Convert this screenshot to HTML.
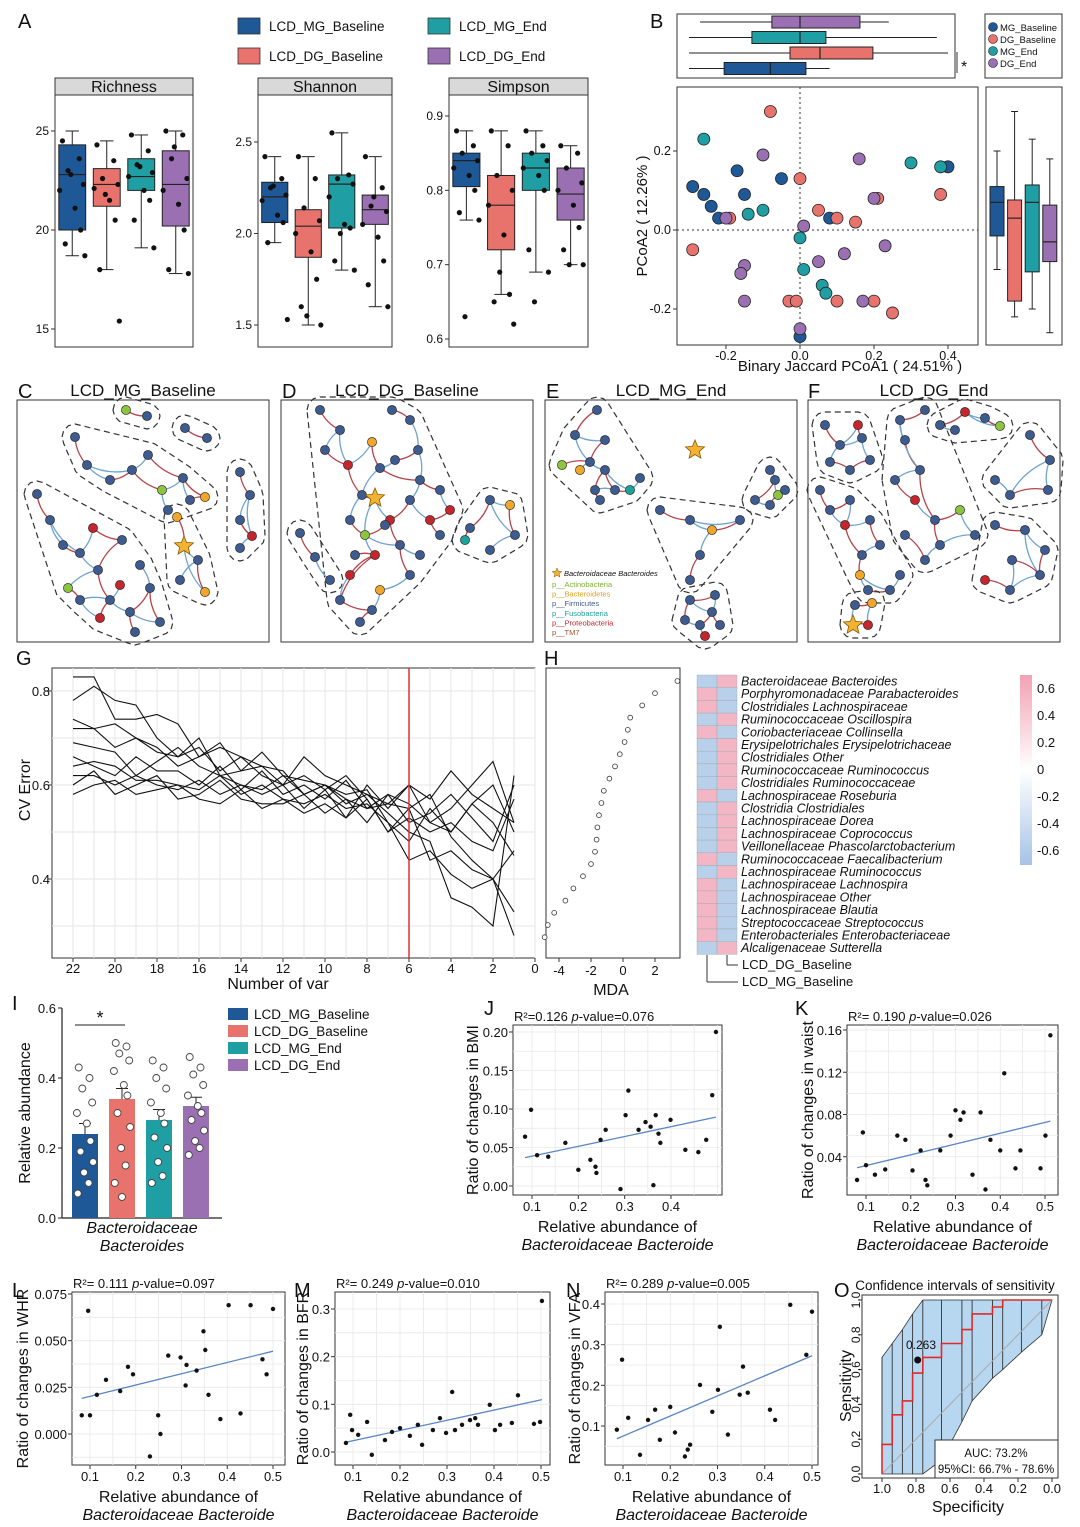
<!DOCTYPE html>
<html><head><meta charset="utf-8"><title>Figure</title>
<style>
html,body{margin:0;padding:0;background:#fff;}
svg{display:block;font-family:"Liberation Sans",Arial,sans-serif;}
</style></head>
<body>
<svg id="root" width="1080" height="1527" viewBox="0 0 1080 1527" xmlns="http://www.w3.org/2000/svg">
<rect x="0" y="0" width="1080" height="1527" fill="#fff"/>
</svg>
<script>
// ---------- DATA ----------
const groupNames = ["LCD_MG_Baseline","LCD_DG_Baseline","LCD_MG_End","LCD_DG_End"];
const groupColors = ["#1f5896","#e8736c","#1f9fa3","#9a70b2"];
// Panel A box stats [min,q1,med,q3,max]
const richStats = [[18.7,20,22.8,24.3,25],[18,21.2,22.3,23.1,24.5],[19.1,22,22.7,23.6,24.8],[17.8,20.2,22.3,24,25]];
const shanStats = [[1.95,2.06,2.2,2.28,2.42],[1.5,1.87,2.04,2.13,2.42],[1.8,2.03,2.27,2.32,2.55],[1.6,2.05,2.13,2.21,2.42]];
const simpStats = [[0.76,0.805,0.84,0.85,0.88],[0.66,0.72,0.78,0.82,0.88],[0.69,0.8,0.83,0.85,0.88],[0.7,0.76,0.795,0.83,0.86]];
const richPts = [[24.5,23.6,23,22.3,22,21.1,20,19.3,18.7,22.8],[24.3,23.5,22.6,22.3,22.1,21.5,20.5,18,15.4,21.8],[24.8,24,23.3,22.9,22.7,22,21.5,20.5,19.1,23.2],[25,24.8,23.6,22.6,22,21.3,20,18,17.8,24.2]];
const shanPts = [[2.42,2.3,2.25,2.21,2.18,2.1,2.06,1.95,1.53,2.26],[2.42,2.3,2.14,2.07,2.0,1.9,1.75,1.6,1.5,1.55],[2.55,2.32,2.3,2.27,2.2,2.05,2.03,1.85,1.8,2.0],[2.42,2.25,2.15,2.12,2.05,1.98,1.85,1.72,1.6,2.2]];
const simpPts = [[0.88,0.86,0.85,0.84,0.83,0.82,0.8,0.77,0.76,0.63],[0.88,0.86,0.82,0.8,0.78,0.74,0.66,0.65,0.62,0.69],[0.88,0.86,0.85,0.84,0.83,0.82,0.8,0.72,0.69,0.65],[0.86,0.85,0.83,0.81,0.8,0.78,0.75,0.72,0.7,0.7]];
// Panel B PCoA points
const pcoaX = [-0.29,-0.26,-0.17,-0.24,-0.22,-0.15,-0.05,0.08,0.4,0.0,
 -0.26,-0.1,0.0,0.01,0.06,0.07,0.3,0.38,-0.14,
 -0.08,0.0,-0.29,-0.19,0.05,-0.03,-0.01,0.1,0.15,0.2,0.25,0.38,0.21,0.1,
 -0.1,0.16,-0.2,-0.15,-0.16,0.05,0.12,0.2,0.23,0.17,0.0,-0.15,0.01];
const pcoaY = [0.11,0.09,0.15,0.06,0.03,0.09,0.13,0.03,0.16,-0.27,
 0.23,0.05,-0.02,-0.1,-0.14,-0.16,0.17,0.16,0.04,
 0.3,0.13,-0.05,0.03,0.05,-0.18,-0.18,0.03,0.02,-0.18,-0.21,0.09,0.08,-0.18,
 0.19,0.18,0.03,-0.09,-0.11,-0.08,-0.06,0.08,-0.04,-0.18,-0.25,-0.18,0.01];
const pcoaG = [0,0,0,0,0,0,0,0,0,0, 2,2,2,2,2,2,2,2,2, 1,1,1,1,1,1,1,1,1,1,1,1,1,1, 3,3,3,3,3,3,3,3,3,3,3,3,3];
const pc1Stats = [[-0.3,-0.205,-0.08,0.016,0.08],[-0.3,-0.027,0.054,0.197,0.4],[-0.3,-0.13,0.0,0.07,0.37],[-0.27,-0.076,0.0,0.162,0.24]];
const pc2Stats = [[-0.1,-0.015,0.07,0.11,0.2],[-0.22,-0.18,0.03,0.076,0.3],[-0.2,-0.106,0.07,0.114,0.23],[-0.26,-0.08,-0.03,0.063,0.18]];
// Panel G CV error lines (x = 22..1)
const nVar = [22,21,20,19,18,17,16,15,14,13,12,11,10,9,8,7,6,5,4,3,2,1];
const cvLine1 = [0.83,0.83,0.74,0.74,0.75,0.73,0.66,0.69,0.63,0.64,0.63,0.58,0.60,0.57,0.55,0.56,0.55,0.44,0.46,0.42,0.40,0.46];
const cvLine2 = [0.78,0.81,0.78,0.77,0.70,0.66,0.68,0.63,0.66,0.64,0.60,0.62,0.59,0.62,0.57,0.50,0.55,0.58,0.49,0.44,0.40,0.33];
const cvLine3 = [0.74,0.72,0.73,0.70,0.67,0.66,0.70,0.62,0.63,0.67,0.62,0.61,0.60,0.58,0.59,0.52,0.44,0.46,0.41,0.38,0.40,0.28];
const cvLine4 = [0.72,0.72,0.68,0.70,0.68,0.64,0.66,0.68,0.66,0.62,0.60,0.66,0.62,0.60,0.58,0.56,0.60,0.52,0.50,0.56,0.52,0.45];
const cvLine5 = [0.69,0.68,0.67,0.62,0.65,0.68,0.64,0.62,0.60,0.59,0.62,0.58,0.60,0.56,0.58,0.54,0.50,0.48,0.36,0.34,0.30,0.62];
const cvLine6 = [0.66,0.64,0.62,0.66,0.63,0.63,0.60,0.64,0.59,0.63,0.58,0.60,0.57,0.61,0.55,0.58,0.52,0.54,0.58,0.53,0.48,0.60];
const cvLine7 = [0.64,0.65,0.64,0.61,0.61,0.60,0.59,0.62,0.58,0.60,0.57,0.56,0.58,0.55,0.56,0.52,0.48,0.55,0.50,0.56,0.60,0.50];
const cvLine8 = [0.62,0.62,0.60,0.62,0.60,0.59,0.61,0.58,0.60,0.58,0.60,0.55,0.59,0.53,0.60,0.55,0.60,0.57,0.63,0.58,0.55,0.52];
const cvLine9 = [0.60,0.63,0.58,0.60,0.62,0.57,0.58,0.61,0.57,0.56,0.56,0.58,0.54,0.57,0.52,0.58,0.56,0.52,0.55,0.60,0.65,0.52];
const cvLine10 = [0.58,0.60,0.61,0.58,0.59,0.60,0.57,0.56,0.59,0.55,0.57,0.54,0.56,0.53,0.57,0.50,0.53,0.50,0.52,0.48,0.46,0.57];
const cvCut = 6;
// Panel H
const taxa = ["Bacteroidaceae Bacteroides","Porphyromonadaceae Parabacteroides","Clostridiales Lachnospiraceae","Ruminococcaceae Oscillospira","Coriobacteriaceae Collinsella","Erysipelotrichales Erysipelotrichaceae","Clostridiales Other","Ruminococcaceae Ruminococcus","Clostridiales Ruminococcaceae","Lachnospiraceae Roseburia","Clostridia Clostridiales","Lachnospiraceae Dorea","Lachnospiraceae Coprococcus","Veillonellaceae Phascolarctobacterium","Ruminococcaceae Faecalibacterium","Lachnospiraceae Ruminococcus","Lachnospiraceae Lachnospira","Lachnospiraceae Other","Lachnospiraceae Blautia","Streptococcaceae Streptococcus","Enterobacteriales Enterobacteriaceae","Alcaligenaceae Sutterella"];
const mda = [3.4,2.0,1.2,0.45,0.3,0.1,-0.2,-0.5,-0.85,-1.2,-1.35,-1.5,-1.6,-1.65,-1.75,-2.0,-2.5,-3.1,-3.6,-4.3,-4.7,-4.9];
const corrMG = [-0.5,0.5,0.5,-0.5,0.5,-0.5,-0.5,-0.5,-0.5,0.5,-0.5,-0.5,-0.5,-0.5,0.5,-0.5,0.5,0.5,0.5,0.5,0.5,-0.5];
const corrDG = [0.5,-0.5,-0.5,0.5,-0.5,0.5,0.5,0.5,0.5,-0.5,0.5,0.5,0.5,0.5,-0.5,0.5,-0.5,-0.5,-0.5,-0.5,-0.5,0.5];
const cbTicks = [0.6,0.4,0.2,0,-0.2,-0.4,-0.6];
// Panel I
const barMeans = [0.24,0.34,0.28,0.32];
const barSE = [0.03,0.03,0.03,0.025];
const barPts = [[0.43,0.4,0.37,0.33,0.3,0.27,0.22,0.19,0.16,0.13,0.1,0.07],[0.5,0.49,0.47,0.45,0.42,0.38,0.35,0.3,0.26,0.2,0.15,0.1,0.06],[0.45,0.43,0.4,0.37,0.33,0.3,0.27,0.23,0.2,0.16,0.12,0.1],[0.46,0.43,0.41,0.38,0.35,0.32,0.3,0.28,0.25,0.22,0.2,0.18]];
// Panels J-N
const jX=[0.085,0.098,0.111,0.135,0.172,0.2,0.226,0.237,0.239,0.248,0.259,0.291,0.302,0.308,0.33,0.345,0.356,0.362,0.373,0.377,0.399,0.431,0.459,0.476,0.489,0.497,0.367];
const jY=[0.064,0.099,0.04,0.038,0.056,0.021,0.034,0.025,0.017,0.06,0.073,-0.004,0.092,0.124,0.073,0.083,0.077,0.001,0.068,0.056,0.086,0.047,0.044,0.06,0.118,0.2,0.092];
const kX=[0.08,0.093,0.1,0.12,0.143,0.17,0.188,0.204,0.222,0.233,0.237,0.266,0.289,0.3,0.311,0.318,0.338,0.356,0.367,0.378,0.4,0.409,0.434,0.445,0.49,0.501,0.512];
const kY=[0.018,0.063,0.032,0.023,0.028,0.06,0.056,0.027,0.046,0.018,0.013,0.046,0.06,0.084,0.075,0.082,0.023,0.082,0.009,0.056,0.046,0.119,0.029,0.046,0.029,0.06,0.155];
const lX=[0.082,0.096,0.1,0.115,0.135,0.166,0.183,0.194,0.231,0.249,0.254,0.271,0.298,0.311,0.309,0.333,0.348,0.352,0.359,0.385,0.403,0.429,0.451,0.477,0.486,0.5];
const lY=[0.01,0.066,0.01,0.021,0.029,0.023,0.036,0.032,-0.012,0.01,0,0.042,0.041,0.037,0.026,0.034,0.055,0.045,0.021,0.008,0.069,0.011,0.069,0.04,0.032,0.067];
const mX=[0.085,0.094,0.098,0.111,0.13,0.14,0.168,0.183,0.2,0.221,0.238,0.247,0.27,0.285,0.298,0.311,0.317,0.332,0.349,0.36,0.366,0.391,0.402,0.413,0.438,0.451,0.485,0.498,0.502];
const mY=[0.019,0.078,0.046,0.036,0.063,-0.006,0.025,0.042,0.05,0.034,0.057,0.015,0.046,0.071,0.04,0.126,0.046,0.057,0.067,0.071,0.057,0.099,0.046,0.057,0.061,0.119,0.059,0.063,0.317];
const nX=[0.087,0.098,0.111,0.136,0.153,0.168,0.178,0.2,0.21,0.231,0.237,0.242,0.263,0.289,0.301,0.305,0.322,0.347,0.354,0.364,0.411,0.422,0.454,0.488,0.5];
const nY=[0.091,0.263,0.12,0.029,0.115,0.14,0.066,0.147,0.084,0.025,0.042,0.054,0.201,0.135,0.189,0.344,0.079,0.177,0.246,0.182,0.14,0.115,0.398,0.275,0.381];
// Panel O ROC
const rocSpec = [1,1,0.94,0.94,0.88,0.88,0.82,0.82,0.76,0.76,0.65,0.65,0.53,0.53,0.47,0.47,0.35,0.35,0.29,0.29,0];
const rocSens = [0,0.17,0.17,0.34,0.34,0.42,0.42,0.58,0.58,0.67,0.67,0.75,0.75,0.83,0.83,0.92,0.92,0.96,0.96,1,1];
const ciSpec = [1,0.94,0.88,0.82,0.76,0.65,0.53,0.47,0.35,0.29,0.18,0.06,0];
const ciLow = [0,0,0,0,0,0.08,0.3,0.42,0.55,0.6,0.7,0.8,1];
const ciHigh = [0.67,0.75,0.83,0.92,1,1,1,1,1,1,1,1,1];

// ---------- HELPERS ----------
const NS="http://www.w3.org/2000/svg";
const svg=document.getElementById('root');
function mk(tag,attrs,name,parent){
  const e=document.createElementNS(NS,tag);
  for(const k in attrs) e.setAttribute(k,attrs[k]);
  
  
  (parent||svg).appendChild(e);
  return e;
}
function txt(x,y,s,size,name,opts){
  opts=opts||{};
  const a={x:x,y:y,'font-size':size,fill:opts.fill||'#111'};
  if(opts.anchor) a['text-anchor']=opts.anchor;
  if(opts.italic) a['font-style']='italic';
  if(opts.rot!==undefined) a.transform='rotate('+opts.rot+' '+x+' '+y+')';
  if(opts.weight) a['font-weight']=opts.weight;
  const t=mk('text',a,name);
  t.textContent=s;
  return t;
}
function lin(d0,d1,r0,r1){return v=>r0+(v-d0)*(r1-r0)/(d1-d0);}
function line(x1,y1,x2,y2,st,w,name,dash){
  const a={x1:x1,y1:y1,x2:x2,y2:y2,stroke:st,'stroke-width':w||1};
  if(dash) a['stroke-dasharray']=dash;
  return mk('line',a,name);
}
function rect(x,y,w,h,fill,st,name,sw){
  return mk('rect',{x:x,y:y,width:w,height:h,fill:fill,stroke:st||'none','stroke-width':sw||1},name);
}
function vbox(cx,w,s,ys,color,name){
  line(cx,ys(s[0]),cx,ys(s[4]),'#222',1,name+'-whisker');
  line(cx-w/4,ys(s[0]),cx+w/4,ys(s[0]),'#222',1,name+'-cap-low');
  line(cx-w/4,ys(s[4]),cx+w/4,ys(s[4]),'#222',1,name+'-cap-high');
  rect(cx-w/2,ys(s[3]),w,ys(s[1])-ys(s[3]),color,'#222',name+'-box');
  line(cx-w/2,ys(s[2]),cx+w/2,ys(s[2]),'#222',1.2,name+'-median');
}
function hbox(cy,h,s,xs,color,name){
  line(xs(s[0]),cy,xs(s[4]),cy,'#222',1,name+'-whisker');
  rect(xs(s[1]),cy-h/2,xs(s[3])-xs(s[1]),h,color,'#222',name+'-box');
  line(xs(s[2]),cy-h/2,xs(s[2]),cy+h/2,'#222',1.2,name+'-median');
}
const jit=[-7,5,-3,8,-9,2,6,-5,9,-1,4,-8,0];

// ---------- PANEL LETTERS & TITLES ----------
[['A',18,28],['B',650,28],['C',18,398],['D',282,398],['E',546,398],['F',808,398],['G',16,665],['H',544,665],['I',12,1010],['J',484,1015],['K',795,1015],['L',12,1297],['M',294,1297],['N',566,1297],['O',834,1297]].forEach(p=>{
  txt(p[1],p[2],p[0],20,'panel-label-'+p[0].toLowerCase());
});

// ---------- PANEL A ----------
groupNames.forEach((g,i)=>{
  const lx = i%2===0 ? 238 : 428, ly = i<2 ? (i===0?18:48) : (i===2?18:48);
  const col = [0,2,1,3][i];
});
[[0,238,18],[2,428,18],[1,238,48],[3,428,48]].forEach(p=>{
  const g=p[0];
  rect(p[1],p[2],22,16,groupColors[g],'#333','legend-a-swatch-'+g,0.8);
  txt(p[1]+31,p[2]+13,groupNames[g],13.5,'legend-a-label-'+g);
});
function alphaPanel(x0,x1,title,stats,pts,yd,ticks,tickFmt,name){
  const ys=lin(yd[0],yd[1],yd[2],yd[3]);
  rect(x0,78,x1-x0,17,'#d9d9d9','#333',name+'-strip');
  txt((x0+x1)/2,92,title,16,name+'-title',{anchor:'middle'});
  rect(x0,95,x1-x0,252,'#fff','#333',name+'-frame');
  ticks.forEach(t=>{
    line(x0-4,ys(t),x0,ys(t),'#333',1,name+'-tick');
    txt(x0-6,ys(t)+4,tickFmt(t),12,name+'-tick-label',{anchor:'end'});
  });
  const w=(x1-x0)/4;
  stats.forEach((s,i)=>{
    const cx=x0+w*(i+0.5);
    vbox(cx,w*0.78,s,ys,groupColors[i],name+'-group-'+i);
    pts[i].forEach((v,j)=>{
      mk('circle',{cx:cx+jit[j%jit.length]*1.4,cy:ys(v),r:2.6,fill:'#111'},name+'-point');
    });
  });
}
alphaPanel(55,193,'Richness',richStats,richPts,[15,25,329,131],[15,20,25],t=>String(t),'richness');
alphaPanel(258,392,'Shannon',shanStats,shanPts,[1.5,2.5,325,142],[1.5,2.0,2.5],t=>t.toFixed(1),'shannon');
alphaPanel(449,588,'Simpson',simpStats,simpPts,[0.6,0.9,339,116],[0.6,0.7,0.8,0.9],t=>t.toFixed(1),'simpson');

// ---------- PANEL B ----------
const bx=lin(0,0.2,800,874), by=lin(0,0.2,230,151);
rect(677,87,301,258,'#fff','#333','pcoa-frame');
line(800,87,800,345,'#333',1,'pcoa-zero-x','2,3');
line(677,230,978,230,'#333',1,'pcoa-zero-y','2,3');
pcoaX.forEach((v,i)=>{
  mk('circle',{cx:bx(v),cy:by(pcoaY[i]),r:6,fill:groupColors[pcoaG[i]],stroke:'#222','stroke-width':0.8},'pcoa-point');
});
[-0.2,0,0.2,0.4].forEach(t=>{
  line(bx(t),345,bx(t),349,'#333',1,'pcoa-x-tick');
  txt(bx(t),360,t.toFixed(1),12.5,'pcoa-x-tick-label',{anchor:'middle'});
});
[-0.2,0,0.2].forEach(t=>{
  line(673,by(t),677,by(t),'#333',1,'pcoa-y-tick');
  txt(671,by(t)+4,t.toFixed(1),12.5,'pcoa-y-tick-label',{anchor:'end'});
});
txt(850,371,'Binary Jaccard PCoA1 ( 24.51% )',15,'pcoa-x-title',{anchor:'middle'});
txt(647,216,'PCoA2 ( 12.26% )',15,'pcoa-y-title',{anchor:'middle',rot:-90});
rect(677,14,278,64,'#fff','#333','pcoa1-box-frame');
[3,2,1,0].forEach((g,k)=>{ hbox(22+k*15.5,12,pc1Stats[g],bx,groupColors[g],'pcoa1-box-'+g); });
line(957,52,957,73,'#333',1,'pcoa1-sig-bracket');
txt(961,72,'*',16,'pcoa1-sig-star');
rect(986,87,76,258,'#fff','#333','pcoa2-box-frame');
[0,1,2,3].forEach(g=>{ vbox(997+g*17.6,14,pc2Stats[g],by,groupColors[g],'pcoa2-box-'+g); });
rect(985,14,77,64,'#fff','#333','pcoa-legend-frame');
groupNames.forEach((g,i)=>{
  mk('circle',{cx:993,cy:27+i*12,r:4.5,fill:groupColors[i],stroke:'#222','stroke-width':0.6},'pcoa-legend-dot');
  txt(1000,31+i*12,g.replace('LCD_',''),9.5,'pcoa-legend-label');
});

// ---------- NETWORKS C-F ----------
const nodeCol={b:'#3e5b8f',r:'#c3262c',g:'#8cc43f',o:'#f0a62b',t:'#1ba39b'};
const netC=[
 [[75,437,'b'],[87,465,'b'],[110,480,'b'],[132,470,'b'],[148,455,'b'],[162,490,'g'],[183,478,'b'],[205,497,'o'],[168,510,'b'],[190,500,'b']],
 [[126,410,'g'],[147,416,'b']],[[185,428,'b'],[207,438,'b']],
 [[240,472,'b'],[250,495,'b'],[240,520,'b'],[252,536,'r'],[240,548,'b']],
 [[37,494,'b'],[50,520,'b'],[63,545,'b'],[80,553,'b'],[93,528,'r'],[122,540,'b'],[98,570,'b'],[110,600,'b'],[80,600,'b'],[100,618,'r'],[130,612,'b'],[150,588,'b'],[160,622,'b'],[135,632,'b'],[120,585,'r'],[68,588,'g'],[140,565,'b']],
 [[184,546,'s'],[177,517,'o'],[198,560,'b'],[205,592,'o'],[180,580,'b']]];
const netD=[
 [[320,410,'b'],[340,430,'b'],[325,450,'b'],[348,465,'r'],[372,442,'o'],[380,468,'b'],[362,495,'b'],[375,498,'s'],[350,520,'b'],[365,535,'g'],[390,520,'r'],[410,500,'b'],[420,480,'b'],[440,490,'b'],[430,520,'r'],[400,545,'b'],[375,555,'r'],[350,575,'r'],[340,600,'b'],[372,610,'b'],[380,590,'o'],[410,575,'b'],[420,555,'b'],[440,535,'b'],[450,510,'r'],[355,555,'b'],[395,460,'b'],[418,450,'b'],[410,420,'b'],[392,410,'b'],[385,525,'b'],[360,622,'b']],
 [[300,533,'b'],[315,557,'b'],[330,580,'b']],
 [[470,528,'b'],[490,500,'b'],[510,505,'o'],[515,535,'b'],[490,550,'b'],[465,540,'t']]];
const netE=[
 [[597,410,'b'],[575,435,'b'],[605,440,'b'],[590,462,'b'],[605,470,'b'],[615,490,'b'],[595,490,'b'],[562,465,'g'],[580,470,'o'],[630,490,'t'],[640,478,'b'],[600,500,'b']],
 [[695,450,'s']],
 [[660,510,'b'],[690,520,'b'],[712,530,'o'],[740,520,'b'],[700,555,'b'],[690,580,'b']],
 [[755,500,'b'],[775,480,'b'],[778,495,'g'],[770,505,'b'],[770,470,'b'],[785,490,'b']],
 [[690,600,'b'],[685,620,'b'],[700,625,'b'],[712,612,'b'],[705,636,'r'],[720,625,'b'],[715,595,'b']]];
const netF=[
 [[825,425,'b'],[840,445,'b'],[858,425,'r'],[862,438,'b'],[870,460,'b'],[850,470,'b'],[830,462,'b']],
 [[940,425,'b'],[965,412,'r'],[985,418,'b'],[1000,426,'g'],[955,430,'b']],
 [[1030,435,'b'],[1050,460,'b'],[1048,490,'b'],[1010,495,'b'],[995,480,'b']],
 [[900,420,'b'],[925,410,'b'],[905,440,'b'],[920,470,'b'],[895,480,'b'],[915,500,'r'],[935,520,'b'],[960,510,'g'],[975,535,'b'],[940,545,'b'],[925,560,'b'],[905,535,'b']],
 [[820,490,'b'],[830,510,'b'],[845,525,'r'],[850,500,'b'],[870,520,'b'],[880,545,'b'],[862,555,'b'],[860,575,'o'],[868,590,'b'],[890,590,'b'],[900,575,'b']],
 [[995,525,'b'],[1025,530,'b'],[1045,550,'b'],[1040,575,'b'],[1010,590,'b'],[985,580,'r'],[1012,560,'b']],
 [[855,605,'b'],[872,603,'o'],[868,625,'r'],[853,625,'s']]];
function hull(pts){
  pts=pts.slice().sort((a,b)=>a[0]-b[0]||a[1]-b[1]);
  const cr=(o,a,b)=>(a[0]-o[0])*(b[1]-o[1])-(a[1]-o[1])*(b[0]-o[0]);
  const lo=[],up=[];
  for(const p of pts){while(lo.length>=2&&cr(lo[lo.length-2],lo[lo.length-1],p)<=0)lo.pop();lo.push(p);}
  for(let i=pts.length-1;i>=0;i--){const p=pts[i];while(up.length>=2&&cr(up[up.length-2],up[up.length-1],p)<=0)up.pop();up.push(p);}
  up.pop();lo.pop();return lo.concat(up);
}
function starPath(cx,cy,r){
  let d='';for(let i=0;i<10;i++){const a=-Math.PI/2+i*Math.PI/5;const rr=i%2?r*0.45:r;d+=(i?'L':'M')+(cx+rr*Math.cos(a)).toFixed(1)+','+(cy+rr*Math.sin(a)).toFixed(1);}return d+'Z';
}
function network(x0,title,clusters,name){
  rect(x0,400,252,242,'#fff','#333',name+'-frame');
  txt(x0+126,396,title,17,name+'-title',{anchor:'middle'});
  clusters.forEach((cl,ci)=>{
    if(cl.length>1){
      const ring=[];cl.forEach(p=>{for(let k=0;k<12;k++){ring.push([p[0]+13*Math.cos(k*Math.PI/6),p[1]+13*Math.sin(k*Math.PI/6)]);}});
      const h=hull(ring);
      mk('path',{d:'M'+h.map(p=>p[0].toFixed(1)+','+p[1].toFixed(1)).join('L')+'Z',fill:'none',stroke:'#333','stroke-width':1.2,'stroke-dasharray':'6,4','stroke-linejoin':'round'},name+'-module-outline');
    }
    for(let i=1;i<cl.length;i++){
      const ds=[];for(let j=0;j<i;j++){ds.push([Math.hypot(cl[i][0]-cl[j][0],cl[i][1]-cl[j][1]),j]);}
      ds.sort((a,b)=>a[0]-b[0]);
      const nk = i%3===0 && ds.length>1 ? 2 : 1;
      for(let k=0;k<nk;k++){
        const a=cl[i],b=cl[ds[k][1]];
        const mx=(a[0]+b[0])/2+(b[1]-a[1])*0.18, my=(a[1]+b[1])/2-(b[0]-a[0])*0.18;
        mk('path',{d:'M'+a[0]+','+a[1]+'Q'+mx.toFixed(1)+','+my.toFixed(1)+' '+b[0]+','+b[1],fill:'none',stroke:(i+k)%2?'#b5444a':'#6fa3cf','stroke-width':1.3},name+'-edge');
      }
    }
  });
  clusters.forEach(cl=>cl.forEach(p=>{
    if(p[2]==='s') mk('path',{d:starPath(p[0],p[1],10),fill:'#f2b233',stroke:'#8a5a00','stroke-width':0.8},name+'-hub-star');
    else mk('circle',{cx:p[0],cy:p[1],r:4.6,fill:nodeCol[p[2]],stroke:'#222','stroke-width':0.6},name+'-node');
  }));
}
network(17,'LCD_MG_Baseline',netC,'network-c');
network(281,'LCD_DG_Baseline',netD,'network-d');
network(545,'LCD_MG_End',netE,'network-e');
network(808,'LCD_DG_End',netF,'network-f');
mk('path',{d:starPath(557,573,5),fill:'#f2b233',stroke:'#8a5a00','stroke-width':0.5},'network-legend-star');
txt(564,576,'Bacteroidaceae Bacteroides',7.5,'network-legend-star-label',{italic:true});
[['p__Actinobacteria','#7ab030'],['p__Bacteroidetes','#e0a020'],['p__Firmicutes','#3e5b8f'],['p__Fusobacteria','#1ba39b'],['p__Proteobacteria','#c3262c'],['p__TM7','#a0522d']].forEach((l,i)=>{
  txt(552,587+i*9.6,l[0],7.5,'network-legend-phylum',{fill:l[1]});
});

// ---------- PANEL G ----------
const gx=lin(22,0,73,535), gy=lin(0.4,0.8,879,691);
rect(52,668,483,290,'#fff','#333','cv-frame');
nVar.concat([0]).forEach(v=>{ line(gx(v),668,gx(v),958,'#e6e6e6',1,'cv-grid-x'); });
[0.3,0.4,0.5,0.6,0.7,0.8].forEach(v=>{ line(52,gy(v),535,gy(v),'#e6e6e6',1,'cv-grid-y'); });
[cvLine1,cvLine2,cvLine3,cvLine4,cvLine5,cvLine6,cvLine7,cvLine8,cvLine9,cvLine10].forEach((ln,k)=>{
  mk('polyline',{points:ln.map((v,i)=>gx(nVar[i]).toFixed(1)+','+gy(v).toFixed(1)).join(' '),fill:'none',stroke:'#111','stroke-width':1.1},'cv-line-'+(k+1));
});
line(gx(cvCut),668,gx(cvCut),958,'#e0303a',1.5,'cv-cutoff-line');
[22,20,18,16,14,12,10,8,6,4,2,0].forEach(v=>{
  line(gx(v),958,gx(v),962,'#333',1,'cv-x-tick');
  txt(gx(v),973,String(v),13,'cv-x-tick-label',{anchor:'middle'});
});
[0.4,0.6,0.8].forEach(v=>{
  line(48,gy(v),52,gy(v),'#333',1,'cv-y-tick');
  txt(50,gy(v)+5,v.toFixed(1),13,'cv-y-tick-label',{anchor:'end'});
});
txt(278,989,'Number of var',16,'cv-x-title',{anchor:'middle'});
txt(30,790,'CV Error',16,'cv-y-title',{anchor:'middle',rot:-90});

// ---------- PANEL H ----------
const hx=lin(0,2,623,655), rowY=i=>681+i*12.2;
rect(546,668,134,290,'#fff','#333','mda-frame');
mda.forEach((v,i)=>{ mk('circle',{cx:hx(v),cy:rowY(i),r:2.4,fill:'#fff',stroke:'#333','stroke-width':0.8},'mda-point'); });
[-4,-2,0,2].forEach(v=>{
  line(hx(v),958,hx(v),962,'#333',1,'mda-x-tick');
  txt(hx(v),975,String(v),13,'mda-x-tick-label',{anchor:'middle'});
});
txt(611,995,'MDA',16,'mda-x-title',{anchor:'middle'});
const heatCol=v=>v>0?'#f3b6c5':'#b9d0ea';
taxa.forEach((t,i)=>{
  const y=675+i*12.7;
  rect(697,y,20,12.7,heatCol(corrMG[i]),'#9aa','heat-cell-mg',0.4);
  rect(717,y,20,12.7,heatCol(corrDG[i]),'#9aa','heat-cell-dg',0.4);
  txt(741,y+10.5,t,12.5,'taxon-label',{italic:true});
});
line(707,955,707,982,'#333',1,'heat-tree-mg');
line(707,982,738,982,'#333',1,'heat-tree-mg-h');
line(727,955,727,965,'#333',1,'heat-tree-dg');
line(727,965,738,965,'#333',1,'heat-tree-dg-h');
txt(742,969,'LCD_DG_Baseline',13,'heat-col-label-dg');
txt(742,986,'LCD_MG_Baseline',13,'heat-col-label-mg');
const defs=mk('defs',{},'defs');
const lg=mk('linearGradient',{id:'cbg',x1:0,y1:0,x2:0,y2:1},'colorbar-gradient',defs);
mk('stop',{offset:'0',"stop-color":'#f2a1b4'},'gradient-stop',lg);
mk('stop',{offset:'0.5',"stop-color":'#ffffff'},'gradient-stop',lg);
mk('stop',{offset:'1',"stop-color":'#a6c2e6'},'gradient-stop',lg);
rect(1020,675,12,190,'url(#cbg)','none','colorbar');
const cby=lin(0.6,-0.6,688,850);
cbTicks.forEach(v=>{ txt(1037,cby(v)+5,String(v),13,'colorbar-tick-label'); });

// ---------- PANEL I ----------
const iy=lin(0,0.6,1218,1008);
line(62,1008,62,1218,'#222',1.2,'bar-y-axis');
line(62,1218,222,1218,'#222',1.2,'bar-x-axis');
[0,0.2,0.4,0.6].forEach(v=>{
  line(58,iy(v),62,iy(v),'#222',1,'bar-y-tick');
  txt(56,iy(v)+5,v.toFixed(1),13,'bar-y-tick-label',{anchor:'end'});
});
barMeans.forEach((m,i)=>{
  const cx=85+i*37;
  rect(cx-13,iy(m),26,iy(0)-iy(m),groupColors[i],'none','bar-'+i);
  line(cx,iy(m),cx,iy(m+barSE[i]),'#222',1,'bar-error-'+i);
  line(cx-6,iy(m+barSE[i]),cx+6,iy(m+barSE[i]),'#222',1,'bar-error-cap-'+i);
  barPts[i].forEach((v,j)=>{ mk('circle',{cx:cx+jit[j%jit.length]*0.9,cy:iy(v),r:3.5,fill:'#fff',stroke:'#444','stroke-width':0.9},'bar-point'); });
});
line(75,1025,125,1025,'#222',1,'bar-sig-bracket');
txt(100,1024,'*',18,'bar-sig-star',{anchor:'middle'});
txt(30,1113,'Relative abundance',16,'bar-y-title',{anchor:'middle',rot:-90});
txt(142,1233,'Bacteroidaceae',16,'bar-x-label-1',{anchor:'middle',italic:true});
txt(142,1251,'Bacteroides',16,'bar-x-label-2',{anchor:'middle',italic:true});
groupNames.forEach((g,i)=>{
  rect(228,1008+i*17,20,12,groupColors[i],'none','bar-legend-swatch');
  txt(254,1019+i*17,g,13.5,'bar-legend-label');
});

// ---------- SCATTER J-N ----------
function scatter(o){
  const xs=lin(o.xd[0],o.xd[1],o.xd[2],o.xd[3]), ys=lin(o.yd[0],o.yd[1],o.yd[2],o.yd[3]);
  rect(o.f[0],o.f[1],o.f[2]-o.f[0],o.f[3]-o.f[1],'#fff','#333',o.name+'-frame');
  const xstep=(o.xt[1]-o.xt[0])/2, ystep=(o.yt[1]-o.yt[0])/2;
  for(let v=o.xt[0]-xstep*2;v<=o.xt[o.xt.length-1]+xstep*2;v+=xstep){const px=xs(v);if(px>o.f[0]&&px<o.f[2])line(px,o.f[1],px,o.f[3],'#e8e8e8',0.8,o.name+'-grid-x');}
  for(let v=o.yt[0]-ystep*2;v<=o.yt[o.yt.length-1]+ystep*2;v+=ystep){const py=ys(v);if(py>o.f[1]&&py<o.f[3])line(o.f[0],py,o.f[2],py,'#e8e8e8',0.8,o.name+'-grid-y');}
  o.xt.forEach(v=>{ line(xs(v),o.f[3],xs(v),o.f[3]+4,'#333',1,o.name+'-x-tick'); txt(xs(v),o.f[3]+16,String(v),13,o.name+'-x-tick-label',{anchor:'middle'}); });
  o.yt.forEach((v,i)=>{ line(o.f[0]-4,ys(v),o.f[0],ys(v),'#333',1,o.name+'-y-tick'); txt(o.f[0]-5,ys(v)+5,o.yl[i],13,o.name+'-y-tick-label',{anchor:'end'}); });
  const n=o.x.length; let sx=0,sy=0,sxx=0,sxy=0;
  for(let i=0;i<n;i++){sx+=o.x[i];sy+=o.y[i];sxx+=o.x[i]*o.x[i];sxy+=o.x[i]*o.y[i];}
  const b=(n*sxy-sx*sy)/(n*sxx-sx*sx), a=(sy-b*sx)/n;
  const xmin=Math.min(...o.x), xmax=Math.max(...o.x);
  line(xs(xmin),ys(a+b*xmin),xs(xmax),ys(a+b*xmax),'#5b86c4',1.3,o.name+'-fit-line');
  o.x.forEach((v,i)=>{ mk('circle',{cx:xs(v),cy:ys(o.y[i]),r:2.2,fill:'#111'},o.name+'-point'); });
  const t=txt(o.f[0]+1,o.f[1]-4,'',13,o.name+'-stats');
  t.innerHTML=o.r2+' <tspan font-style="italic">p</tspan>-value='+o.p;
  txt(o.ylx,(o.f[1]+o.f[3])/2,o.ytitle,16,o.name+'-y-title',{anchor:'middle',rot:-90});
  const cx=(o.f[0]+o.f[2])/2;
  txt(cx,o.f[3]+37,'Relative abundance of',16,o.name+'-x-title-1',{anchor:'middle'});
  txt(cx,o.f[3]+55,'Bacteroidaceae Bacteroide',16,o.name+'-x-title-2',{anchor:'middle',italic:true});
}
scatter({name:'bmi',f:[513,1025,722,1195],xd:[0.1,0.4,532,671],yd:[0,0.2,1186,1032],xt:[0.1,0.2,0.3,0.4],yt:[0,0.05,0.1,0.15,0.2],yl:['0.00','0.05','0.10','0.15','0.20'],x:jX,y:jY,r2:'R²=0.126',p:'0.076',ytitle:'Ratio of changes in BMI',ylx:478});
scatter({name:'waist',f:[847,1025,1058,1195],xd:[0.1,0.5,866,1045],yd:[0,0.16,1199,1030],xt:[0.1,0.2,0.3,0.4,0.5],yt:[0.04,0.08,0.12,0.16],yl:['0.04','0.08','0.12','0.16'],x:kX,y:kY,r2:'R²= 0.190',p:'0.026',ytitle:'Ratio of changes in waist',ylx:813});
scatter({name:'whr',f:[72,1292,285,1465],xd:[0.1,0.5,90,273],yd:[0,0.075,1434,1294],xt:[0.1,0.2,0.3,0.4,0.5],yt:[0,0.025,0.05,0.075],yl:['0.000','0.025','0.050','0.075'],x:lX,y:lY,r2:'R²= 0.111',p:'0.097',ytitle:'Ratio of changes in WHR',ylx:28});
scatter({name:'bfr',f:[335,1292,550,1465],xd:[0.1,0.5,353,541],yd:[0,0.3,1452,1309],xt:[0.1,0.2,0.3,0.4,0.5],yt:[0,0.1,0.2,0.3],yl:['0.0','0.1','0.2','0.3'],x:mX,y:mY,r2:'R²= 0.249',p:'0.010',ytitle:'Ratio of changes in BFR',ylx:308});
scatter({name:'vfa',f:[605,1292,818,1465],xd:[0.1,0.5,623,812],yd:[0.1,0.4,1426,1304],xt:[0.1,0.2,0.3,0.4,0.5],yt:[0.1,0.2,0.3,0.4],yl:['0.1','0.2','0.3','0.4'],x:nX,y:nY,r2:'R²= 0.289',p:'0.005',ytitle:'Ratio of changes in VFA',ylx:580});

// ---------- PANEL O ----------
const ox=lin(1,0,882,1052), oy=lin(0,1,1474,1300);
rect(862,1295,196,183,'#fff','#333','roc-frame');
txt(955,1290,'Confidence intervals of sensitivity',13.5,'roc-title',{anchor:'middle'});
const band=ciSpec.map((s,i)=>ox(s)+','+oy(ciHigh[i])).concat(ciSpec.slice().reverse().map((s,i)=>ox(s)+','+oy(ciLow[ciSpec.length-1-i])));
mk('polygon',{points:band.join(' '),fill:'#b7d6f0',stroke:'#333','stroke-width':0.8},'roc-ci-band');
ciSpec.forEach((s,i)=>{ line(ox(s),oy(ciLow[i]),ox(s),oy(ciHigh[i]),'#333',0.9,'roc-ci-bar'); });
line(ox(1),oy(0),ox(0),oy(1),'#aaa',1,'roc-diagonal');
mk('polyline',{points:rocSpec.map((s,i)=>ox(s).toFixed(1)+','+oy(rocSens[i]).toFixed(1)).join(' '),fill:'none',stroke:'#e02a2a','stroke-width':1.6},'roc-curve');
mk('circle',{cx:ox(0.79),cy:oy(0.655),r:3.5,fill:'#111'},'roc-threshold-point');
txt(906,1349,'0.263',12,'roc-threshold-label');
[1,0.8,0.6,0.4,0.2,0].forEach(v=>{
  line(ox(v),1478,ox(v),1482,'#333',1,'roc-x-tick');
  txt(ox(v),1493,v.toFixed(1),13,'roc-x-tick-label',{anchor:'middle'});
  line(858,oy(v),862,oy(v),'#333',1,'roc-y-tick');
  txt(860,oy(v),v.toFixed(1),12,'roc-y-tick-label',{anchor:'middle',rot:-90});
});
txt(968,1512,'Specificity',16,'roc-x-title',{anchor:'middle'});
txt(851,1386,'Sensitivity',16,'roc-y-title',{anchor:'middle',rot:-90});
rect(935,1440,123,38,'#fff','#333','roc-auc-box');
txt(996,1457,'AUC: 73.2%',11.5,'roc-auc-label',{anchor:'middle'});
txt(996,1473,'95%CI: 66.7% - 78.6%',11.5,'roc-ci-label',{anchor:'middle'});
</script>
</body></html>
